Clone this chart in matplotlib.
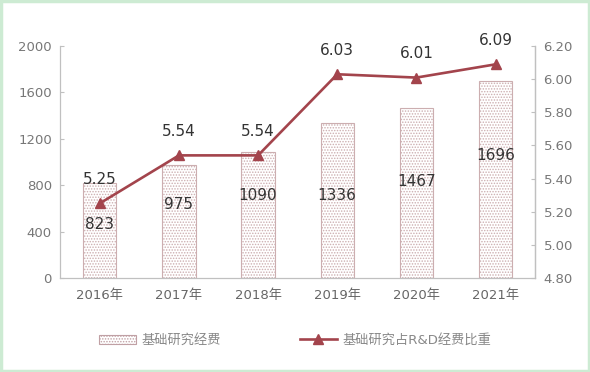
import matplotlib
matplotlib.use("Agg")
import matplotlib.pyplot as plt
from matplotlib.patches import Rectangle
from matplotlib.lines import Line2D
from matplotlib.patches import Patch

plt.rcParams['font.family'] = ['DejaVu Sans', 'Noto Sans CJK SC']
plt.rcParams['hatch.color'] = '#a8a8a8'
plt.rcParams['hatch.linewidth'] = 0.7

years = ['2016年', '2017年', '2018年', '2019年', '2020年', '2021年']
funding = [823, 975, 1090, 1336, 1467, 1696]
ratio = [5.25, 5.54, 5.54, 6.03, 6.01, 6.09]
label_drop = [366, 346, 375, 621, 639, 636]  # how far bar labels sit below bar top

fig = plt.figure(figsize=(5.9, 3.72), dpi=100)
fig.patch.set_facecolor('white')
fig.add_artist(Rectangle((0.002, 0.004), 0.996, 0.992, transform=fig.transFigure,
                         fill=False, edgecolor='#cdebd3', linewidth=2.5))

ax = fig.add_axes([0.102, 0.253, 0.805, 0.623])
x = list(range(len(years)))
ax.bar(x, funding, width=0.42, color='white', edgecolor='#ccaeb0', linewidth=0.8,
       hatch='......', zorder=2)
ax.set_xlim(-0.5, 5.5)
ax.set_ylim(0, 2000)
ax.set_yticks([0, 400, 800, 1200, 1600, 2000])
ax.set_xticks(x)
ax.set_xticklabels(years)
for s in ['top']:
    ax.spines[s].set_visible(False)
for s in ['left', 'bottom', 'right']:
    ax.spines[s].set_color('#c0c0c0')
    ax.spines[s].set_linewidth(0.9)
ax.tick_params(axis='y', direction='in', length=3, colors='#c0c0c0', labelcolor='#777777',
               labelsize=9.5, pad=6)
ax.tick_params(axis='x', length=0, labelcolor='#666666', labelsize=9.5, pad=8)

for xi, v, d in zip(x, funding, label_drop):
    ax.text(xi, v - d, str(v), ha='center', va='center', fontsize=11, color='#333333', zorder=5)

ax2 = ax.twinx()
ax2.set_ylim(4.8, 6.2)
ax2.set_yticks([4.8, 5.0, 5.2, 5.4, 5.6, 5.8, 6.0, 6.2])
ax2.set_yticklabels([f'{t:.2f}' for t in [4.8, 5.0, 5.2, 5.4, 5.6, 5.8, 6.0, 6.2]])
for s in ['top', 'left', 'bottom']:
    ax2.spines[s].set_visible(False)
ax2.spines['right'].set_color('#c0c0c0')
ax2.spines['right'].set_linewidth(0.9)
ax2.tick_params(axis='y', direction='in', length=3, colors='#c0c0c0', labelcolor='#777777',
                labelsize=9.5, pad=6)
line_color = '#a3444c'
ax2.plot(x, ratio, color=line_color, linewidth=1.9, marker='^', markersize=7, zorder=4)
for xi, v in zip(x, ratio):
    ax2.annotate(f'{v:.2f}', (xi, v), xytext=(0, 17), textcoords='offset points',
                 ha='center', va='center', fontsize=11, color='#333333')

handles = [Patch(facecolor='white', edgecolor='#c0a0a4', hatch='......', linewidth=0.8),
           Line2D([0], [0], color=line_color, linewidth=1.9, marker='^', markersize=7)]
leg = fig.legend(handles, ['基础研究经费', '基础研究占R&D经费比重'], loc='center',
                 bbox_to_anchor=(0.5, 0.085), ncol=2, frameon=False, fontsize=9.5,
                 columnspacing=6, handlelength=2.8, handletextpad=0.4)
for t in leg.get_texts():
    t.set_color('#888888')

fig.savefig('out.png', dpi=100, facecolor='white')
